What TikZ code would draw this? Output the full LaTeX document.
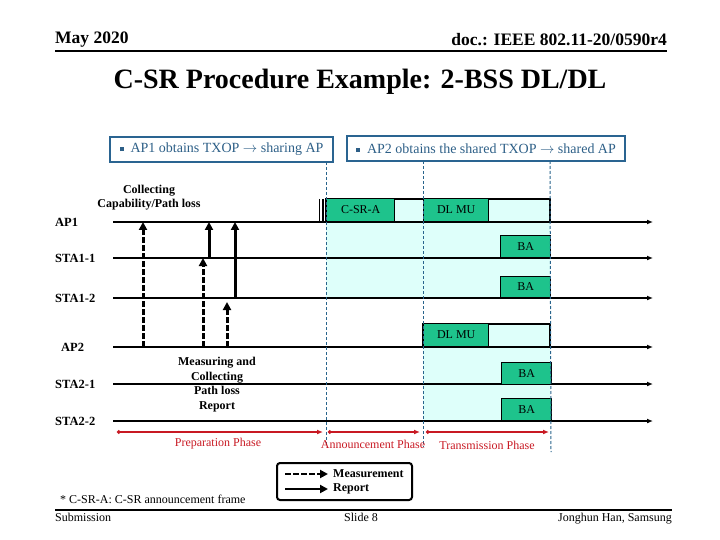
\documentclass[tikz,border=0pt]{standalone}
\usepackage{fontspec}
\setmainfont{Liberation Serif}
\usetikzlibrary{arrows.meta}
\definecolor{boxblue}{RGB}{42,100,145}
\definecolor{txtblue}{RGB}{45,95,135}
\definecolor{grn}{RGB}{30,195,140}
\definecolor{lcyan}{RGB}{222,255,250}
\definecolor{phred}{RGB}{200,25,35}
\definecolor{dashblue}{RGB}{40,100,140}
\newcommand{\bsq}{\raisebox{0.25ex}{\rule{0.28em}{0.28em}}}
\begin{document}
\begin{tikzpicture}[x=1pt,y=-1pt,
  lane/.style={line width=1.5pt,-{Latex[length=6pt,width=5pt]}},
  lanelabel/.style={anchor=west,inner sep=0pt,font=\fontsize{12.5}{12.5}\selectfont\bfseries},
  frame/.style={draw=black,line width=1.4pt,fill=grn,inner sep=0pt,anchor=south west,font=\fontsize{12}{12}\selectfont},
  topbox/.style={draw=boxblue,line width=2.5pt,inner sep=0pt,text=txtblue,font=\fontsize{14}{14}\selectfont},
  phase/.style={draw=phred,line width=1.6pt,{Circle[length=3.5pt]}-{Latex[length=6pt,width=5pt]}},
  phaselabel/.style={text=phred,inner sep=0pt,font=\fontsize{12}{12}\selectfont},
  vdash/.style={draw=dashblue,line width=1pt,dash pattern=on 3pt off 2pt},
  meas/.style={line width=3pt,dash pattern=on 6pt off 2pt,-{Triangle[length=8pt,width=8pt]}},
  rep/.style={line width=3pt,-{Triangle[length=8pt,width=8pt]}},
  bold12/.style={inner sep=0pt,font=\fontsize{12}{14.5}\selectfont\bfseries,align=center},
  foot/.style={inner sep=0pt,font=\fontsize{12}{12}\selectfont}
]
\useasboundingbox (0,0) rectangle (720,540);

% header
\node[anchor=west,inner sep=0pt,font=\fontsize{17.5}{17.5}\selectfont\bfseries] (hdate) at (55,40) {May 2020};
\node[anchor=east,inner sep=0pt,font=\fontsize{17.5}{17.5}\selectfont\bfseries] (hdoc) at (667,40) {doc.: IEEE 802.11-20/0590r4};
\coordinate (hl1) at (55,51); \coordinate (hl2) at (667,51);
\draw[line width=1.8pt] (hl1) -- (hl2);
\node[inner sep=0pt,font=\fontsize{28}{28}\selectfont\bfseries] (title) at (360,82) {C-SR Procedure Example: 2-BSS DL/DL};

% top boxes
\node[topbox,minimum width=223pt,minimum height=25pt] (b1) at (221.5,149.5) {\bsq\ \ AP1 obtains TXOP $\rightarrow$ sharing AP};
\node[topbox,minimum width=278pt,minimum height=25pt] (b2) at (486,148.5) {\bsq\ \ AP2 obtains the shared TXOP $\rightarrow$ shared AP};

% fills
\fill[lcyan] (326,199) rectangle (550,298);
\fill[lcyan] (423,324) rectangle (550,421);

% lanes
\foreach \n/\y/\lx/\t in {ap1/222/55/AP1, sta11/258/55/STA1-1, sta12/298/55/STA1-2, ap2/347/61/AP2, sta21/384/55/STA2-1, sta22/421/55/STA2-2}{
  \node[lanelabel] (l\n) at (\lx,\y) {\t};
  \coordinate (\n s) at (113,\y);
  \coordinate (\n e) at (653,\y);
  \draw[lane] (\n s) -- (\n e);
}

% AP1 row frames
\draw[line width=1.4pt] (326,199) rectangle (550,222);
\node[frame,minimum width=68pt,minimum height=23pt] (csra) at (326,222) {C-SR-A};
\node[frame,minimum width=65pt,minimum height=23pt] (dlmu1) at (423,222) {DL MU};
\coordinate (bar1a) at (319.5,199); \coordinate (bar1b) at (319.5,222);
\coordinate (bar2a) at (323,199); \coordinate (bar2b) at (323,222);
\draw[line width=1.3pt] (bar1a) -- (bar1b);
\draw[line width=1.3pt] (bar2a) -- (bar2b);
\node[frame,minimum width=50pt,minimum height=22pt] (ba11) at (500,258) {BA};
\node[frame,minimum width=50pt,minimum height=21pt] (ba12) at (500,298) {BA};

% AP2 row frames
\draw[line width=1.4pt] (423,324) rectangle (550,347);
\node[frame,minimum width=65pt,minimum height=23pt] (dlmu2) at (423,347) {DL MU};
\node[frame,minimum width=50pt,minimum height=22pt] (ba21) at (501,385) {BA};
\node[frame,minimum width=50pt,minimum height=22pt] (ba22) at (501,421) {BA};

% dashed blue verticals
\coordinate (v1a) at (326,162); \coordinate (v1b) at (326,447);
\coordinate (v2a) at (423,161); \coordinate (v2b) at (423,447);
\coordinate (v3a) at (550,161); \coordinate (v3b) at (551,452);
\draw[vdash] (v1a) -- (v1b);
\draw[vdash] (v2a) -- (v2b);
\draw[vdash] (v3a) -- (v3b);

% phases
\coordinate (p1a) at (117,432); \coordinate (p1b) at (323,432);
\coordinate (p2a) at (328,432); \coordinate (p2b) at (420,432);
\coordinate (p3a) at (426,432); \coordinate (p3b) at (549,432);
\draw[phase] (p1a) -- (p1b);
\draw[phase] (p2a) -- (p2b);
\draw[phase] (p3a) -- (p3b);
\node[phaselabel] (prep) at (218,444) {Preparation Phase};
\node[phaselabel] (ann) at (373,444) {Announcement Phase};
\node[phaselabel] (trans) at (487,445) {Transmission Phase};

% measurement / report arrows
\coordinate (m1a) at (143,347); \coordinate (m1b) at (143,222);
\coordinate (m2a) at (203,347); \coordinate (m2b) at (203,258);
\coordinate (m3a) at (227,347); \coordinate (m3b) at (227,302);
\coordinate (r1a) at (209,258); \coordinate (r1b) at (209,222);
\coordinate (r2a) at (235,298); \coordinate (r2b) at (235,222);
\draw[meas] (m1a) -- (m1b);
\draw[meas] (m2a) -- (m2b);
\draw[meas] (m3a) -- (m3b);
\draw[rep] (r1a) -- (r1b);
\draw[rep] (r2a) -- (r2b);

\node[bold12] (collect) at (149,197.5) {Collecting\\Capability/Path loss};
\node[bold12] (measure) at (217,384.5) {Measuring and\\Collecting\\Path loss\\Report};

% legend
\node[draw,line width=2pt,rounded corners=3pt,minimum width=135pt,minimum height=37pt,inner sep=0pt] (legend) at (344.5,481.5) {};
\coordinate (lg1a) at (285,474); \coordinate (lg1b) at (328,474);
\coordinate (lg2a) at (285,489); \coordinate (lg2b) at (328,489);
\draw[meas,line width=2.5pt] (lg1a) -- (lg1b);
\draw[rep,line width=2.5pt] (lg2a) -- (lg2b);
\node[anchor=west,inner sep=0pt,font=\fontsize{12}{12}\selectfont\bfseries] (lgm) at (333,474) {Measurement};
\node[anchor=west,inner sep=0pt,font=\fontsize{12}{12}\selectfont\bfseries] (lgr) at (333,489) {Report};

% footnote and footer
\node[anchor=west,inner sep=0pt,font=\fontsize{12}{12}\selectfont] (fn) at (60,499) {* C-SR-A: C-SR announcement frame};
\coordinate (fl1) at (55,510); \coordinate (fl2) at (672,510);
\draw[line width=1.5pt] (fl1) -- (fl2);
\node[foot,anchor=base west] (sub) at (55,521) {Submission};
\node[foot,anchor=base] (slide) at (361,521) {Slide 8};
\node[foot,anchor=base east] (auth) at (672,521) {Jonghun Han, Samsung};
\end{tikzpicture}
\end{document}
